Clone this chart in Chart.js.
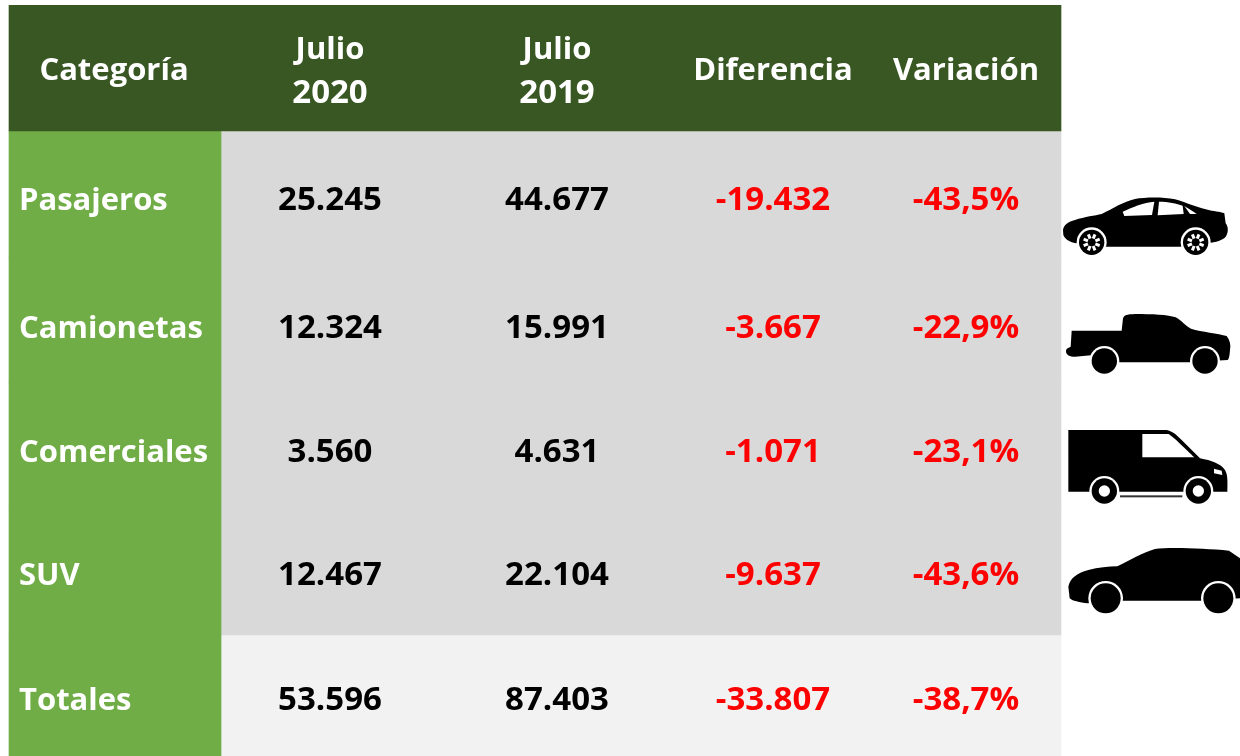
<!DOCTYPE html>
<html lang="es">
<head>
<meta charset="utf-8">
<title>Ventas por categoría</title>
<script src="https://cdn.jsdelivr.net/npm/chart.js@4/dist/chart.umd.min.js"></script>
<style>
    html, body { margin: 0; padding: 0; background: #fff; overflow: hidden; }
    #wrap { width: 1240px; height: 756px; overflow: hidden; }
    canvas { display: block; }
</style>
</head>
<body>
<div id="wrap"><canvas id="tabla" width="1240" height="761"></canvas></div>
<script>
const headers = ["Categoría", "Julio 2020", "Julio 2019", "Diferencia", "Variación"];
const categories = ["Pasajeros", "Camionetas", "Comerciales", "SUV", "Totales"];
const julio2020 = [25245, 12324, 3560, 12467, 53596];
const julio2019 = [44677, 15991, 4631, 22104, 87403];
const diferencia = [-19432, -3667, -1071, -9637, -33807];
const variacion = [-43.5, -22.9, -23.1, -43.6, -38.7];

// Layout, in x scale units (the x scale runs over the page width)
const tableLeft = 9, labelRight = 221, tableRight = 1061;
const columnCenters = [330, 557, 773, 966];
const rowNudge = [7, 9, 7, 4, 3];
// Calibri isn't installed: Open Sans needs a smaller size for words than for digits
const FONT_TEXT = "bold 31px 'Open Sans', Lato, sans-serif";
const FONT_NUM = "bold 33px 'Open Sans', Lato, sans-serif";

const rows = ["header"].concat(categories);

function formatMiles(n) {
    return String(n).replace(/\B(?=(\d{3})+(?!\d))/g, ".");
}

function formatPct(n) {
    return n.toFixed(1).replace(".", ",") + "%";
}

// Vehicle silhouettes, drawn in the 3x space they were traced in
const icons = [
    {
        x: 1055, y: 180,
        body: "M24 150C26 135 40 125 60 120C90 110 120 107 140 102C175 85 205 65 240 57C270 52 320 50 360 58C395 68 430 85 470 92C490 95 505 97 508 100L512 130C520 140 520 155 515 165C510 178 490 185 468 188L375 200L155 200L65 190C50 188 30 180 25 165Z",
        white: ["M203 95C235 80 265 68 298 65L291 105L208 108Z", "M312 65C340 65 365 70 383 77L386 102L308 106Z", "M388 78C400 85 415 95 425 102L405 102Z"],
        wheels: [[110, 187], [422, 187]], r: 38, type: "spokes"
    },
    {
        x: 1055, y: 300,
        body: "M50 92L200 92L204 55C208 45 215 43 240 42C290 42 340 44 362 52C380 62 392 78 408 86C440 96 490 100 515 108C525 120 528 135 525 150C524 165 522 178 518 180L403 187L190 187L108 166L60 170C45 170 32 165 33 152C35 142 45 143 47 140Z",
        white: [],
        wheels: [[148, 183], [450, 183]], r: 38, type: "solid"
    },
    {
        x: 1055, y: 420,
        body: "M40 30L335 30C350 32 365 45 380 60L435 115C470 122 495 130 510 150C518 165 518 180 517 215L40 215Z",
        white: ["M262 42L340 42C355 50 395 90 418 112L262 112Z", "M477 146L500 152L502 165L477 160Z"],
        sill: true,
        wheels: [[148, 213], [430, 213]], r: 38, type: "hub"
    },
    {
        x: 1055, y: 535,
        body: "M40 155C45 130 65 115 100 105C130 97 160 95 187 94C225 75 265 52 300 42C340 36 450 40 522 47L555 70L555 190L436 197L203 197L98 205C75 203 50 197 44 190Z",
        white: [],
        wheels: [[152, 190], [490, 190]], r: 45, type: "solid"
    }
];

function drawWheel(ctx, cx, cy, r, type) {
    ctx.fillStyle = "#fff";
    ctx.beginPath();
    ctx.arc(cx, cy, r + 7, 0, Math.PI * 2);
    ctx.fill();
    ctx.fillStyle = "#000";
    ctx.beginPath();
    ctx.arc(cx, cy, r, 0, Math.PI * 2);
    ctx.fill();
    if (type === "hub") {
        ctx.fillStyle = "#fff";
        ctx.beginPath();
        ctx.arc(cx, cy, 17, 0, Math.PI * 2);
        ctx.fill();
    }
    if (type === "spokes") {
        ctx.strokeStyle = "#fff";
        ctx.lineWidth = 9;
        for (let i = 0; i < 8; i++) {
            const a = i * Math.PI / 4 + Math.PI / 8;
            ctx.beginPath();
            ctx.moveTo(cx + Math.cos(a) * 12, cy + Math.sin(a) * 12);
            ctx.lineTo(cx + Math.cos(a) * 26, cy + Math.sin(a) * 26);
            ctx.stroke();
        }
    }
}

const tablePlugin = {
    id: "tablePlugin",
    afterDatasetsDraw(chart) {
        const ctx = chart.ctx;
        const xs = chart.scales.x;
        const ys = chart.scales.y;
        ctx.save();
        ctx.textBaseline = "middle";

        // header row
        ctx.font = FONT_TEXT;
        ctx.fillStyle = "#fff";
        ctx.textAlign = "center";
        const headY = ys.getPixelForValue(0);
        ctx.fillText(headers[0], xs.getPixelForValue(114), headY + 3);
        headers.slice(1).forEach((h, i) => {
            const x = xs.getPixelForValue(columnCenters[i]);
            const parts = h.split(" ");
            if (parts.length === 2) {
                ctx.fillText(parts[0], x, headY - 18);
                ctx.font = FONT_NUM;
                ctx.fillText(parts[1], x, headY + 26);
                ctx.font = FONT_TEXT;
            } else {
                ctx.fillText(h, x, headY + 3);
            }
        });

        // body rows
        categories.forEach((cat, i) => {
            const y = ys.getPixelForValue(i + 1) + rowNudge[i];
            ctx.font = FONT_TEXT;
            ctx.textAlign = "left";
            ctx.fillStyle = "#fff";
            ctx.fillText(cat, xs.getPixelForValue(19), y);
            ctx.font = FONT_NUM;
            ctx.textAlign = "center";
            ctx.fillStyle = "#000";
            ctx.fillText(formatMiles(julio2020[i]), xs.getPixelForValue(columnCenters[0]), y);
            ctx.fillText(formatMiles(julio2019[i]), xs.getPixelForValue(columnCenters[1]), y);
            ctx.fillStyle = "#f00";
            ctx.fillText(formatMiles(diferencia[i]), xs.getPixelForValue(columnCenters[2]), y);
            ctx.fillText(formatPct(variacion[i]), xs.getPixelForValue(columnCenters[3]), y);
        });

        // vehicle icons
        icons.forEach(icon => {
            ctx.save();
            ctx.translate(icon.x, icon.y);
            ctx.scale(1 / 3, 1 / 3);
            ctx.fillStyle = "#000";
            ctx.fill(new Path2D(icon.body));
            ctx.fillStyle = "#fff";
            icon.white.forEach(p => ctx.fill(new Path2D(p)));
            if (icon.sill) {
                ctx.fillStyle = "#333";
                ctx.fillRect(195, 226, 187, 6);
            }
            icon.wheels.forEach(w => drawWheel(ctx, w[0], w[1], icon.r, icon.type));
            ctx.restore();
        });
        ctx.restore();
    }
};

const lastRow = rows.length - 1;

new Chart(document.getElementById("tabla"), {
    type: "bar",
    data: {
        labels: rows,
        datasets: [
            {
                label: "Encabezado",
                data: rows.map((r, i) => i === 0 ? [tableLeft, tableRight] : null),
                backgroundColor: "#385723"
            },
            {
                label: "Categoría",
                data: rows.map((r, i) => i > 0 ? [tableLeft, labelRight] : null),
                backgroundColor: "#70AD47"
            },
            {
                label: "Valores",
                data: rows.map((r, i) => i > 0 && i < lastRow ? [labelRight, tableRight] : null),
                backgroundColor: "#D9D9D9"
            },
            {
                label: "Totales",
                data: rows.map((r, i) => i === lastRow ? [labelRight, tableRight] : null),
                backgroundColor: "#F2F2F2"
            }
        ]
    },
    options: {
        indexAxis: "y",
        responsive: false,
        animation: false,
        layout: { padding: { top: 5 } },
        datasets: { bar: { grouped: false, barPercentage: 1, categoryPercentage: 1, borderWidth: 0 } },
        plugins: { legend: { display: false }, tooltip: { enabled: false }, title: { display: false } },
        scales: {
            x: { type: "linear", min: 0, max: 1240, display: false },
            y: { type: "category", display: false }
        }
    },
    plugins: [tablePlugin]
});
</script>
</body>
</html>
